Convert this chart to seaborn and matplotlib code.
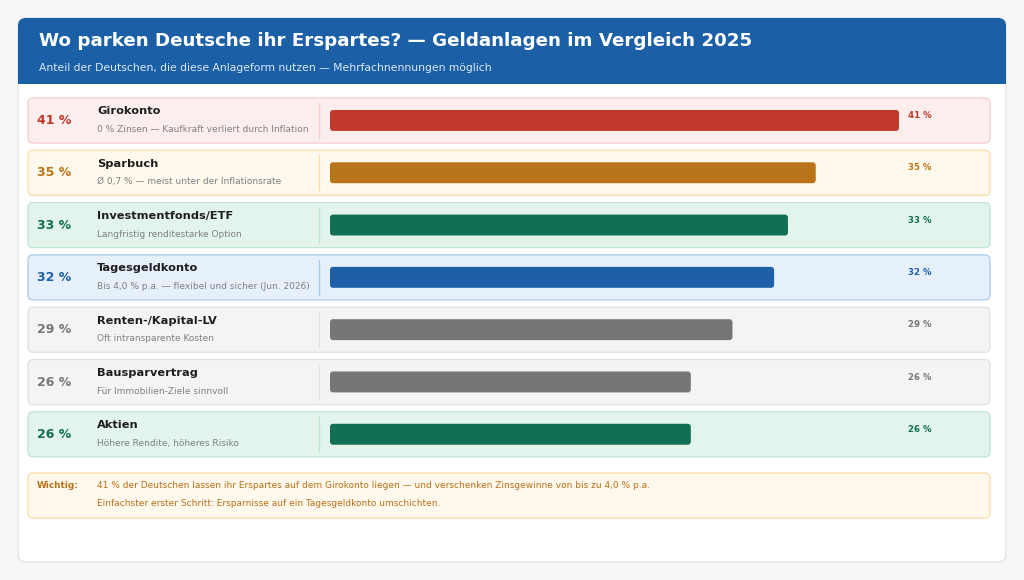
import matplotlib
matplotlib.use("Agg")
import matplotlib.pyplot as plt
from matplotlib.patches import FancyBboxPatch, Rectangle
import seaborn as sns
import pandas as pd

# ---- data ----
categories = ["Girokonto", "Sparbuch", "Investmentfonds/ETF", "Tagesgeldkonto",
              "Renten-/Kapital-LV", "Bausparvertrag", "Aktien"]
shares = [41, 35, 33, 32, 29, 26, 26]
descriptions = ["0 % Zinsen — Kaufkraft verliert durch Inflation",
                "Ø 0,7 % — meist unter der Inflationsrate",
                "Langfristig renditestarke Option",
                "Bis 4,0 % p.a. — flexibel und sicher (Jun. 2026)",
                "Oft intransparente Kosten",
                "Für Immobilien-Ziele sinnvoll",
                "Höhere Rendite, höheres Risiko"]
title = "Wo parken Deutsche ihr Erspartes? — Geldanlagen im Vergleich 2025"
subtitle = "Anteil der Deutschen, die diese Anlageform nutzen — Mehrfachnennungen möglich"
note_label = "Wichtig:"
note_lines = ["41 % der Deutschen lassen ihr Erspartes auf dem Girokonto liegen — und verschenken Zinsgewinne von bis zu 4,0 % p.a.",
              "Einfachster erster Schritt: Ersparnisse auf ein Tagesgeldkonto umschichten."]

# ---- styles ----
bar_colors = ["#c0392b", "#b87418", "#136f54", "#1f5fa8", "#767676", "#767676", "#136f54"]
row_bg = ["#fdeeee", "#fef9ec", "#e2f4ec", "#e6f0fb", "#f4f4f4", "#f4f4f4", "#e2f4ec"]
row_edge = ["#f7cdd0", "#f9dca8", "#bfe5d3", "#a9c9ee", "#e2e2e2", "#e2e2e2", "#bfe5d3"]
header_blue = "#1b5fa7"

W, H = 1024, 580
sns.set_theme(style="white")
plt.rcParams["font.family"] = ["DejaVu Sans"]

fig = plt.figure(figsize=(W / 100, H / 100), dpi=100)
fig.patch.set_facecolor("#f7f7f7")

bg = fig.add_axes([0, 0, 1, 1])
bg.set_xlim(0, W)
bg.set_ylim(H, 0)
bg.axis("off")

# card
bg.add_patch(FancyBboxPatch((18, 18), 988, 544, boxstyle="round,pad=0,rounding_size=8",
                            fc="white", ec="#dddddd", lw=0.8, zorder=1))
# header
bg.add_patch(FancyBboxPatch((18, 18), 988, 66, boxstyle="round,pad=0,rounding_size=8",
                            fc=header_blue, ec="none", zorder=2))
bg.add_patch(Rectangle((18, 60), 988, 24, fc=header_blue, ec="none", zorder=2))
bg.text(39, 41, title, color="white", fontsize=13.15, fontweight="bold", va="center", zorder=3)
bg.text(39, 68, subtitle, color="#dce8f5", fontsize=7.72, va="center", zorder=3)

row_top0 = 98
row_step = 52.3
row_h = 45
for i, (cat, val, desc) in enumerate(zip(categories, shares, descriptions)):
    top = row_top0 + i * row_step
    cy = top + row_h / 2
    bg.add_patch(FancyBboxPatch((28, top), 962, row_h, boxstyle="round,pad=0,rounding_size=5",
                                fc=row_bg[i], ec=row_edge[i], lw=0.9, zorder=2))
    bg.plot([319, 319], [top + 5, top + row_h - 5], color=row_edge[i], lw=1, zorder=3)
    bg.text(37, cy, f"{val} %", color=bar_colors[i], fontsize=9, fontweight="bold",
            va="center", zorder=3)
    bg.text(97, cy - 9, cat, color="#1e1e1e", fontsize=8.2, fontweight="bold",
            va="center", zorder=3)
    bg.text(97, cy + 9, desc, color="#808080", fontsize=6.5, va="center", zorder=3)
    bg.text(908, cy - 5, f"{val} %", color=bar_colors[i], fontsize=6.2, fontweight="bold",
            va="center", zorder=3)

# note box
bg.add_patch(FancyBboxPatch((28, 473), 962, 45, boxstyle="round,pad=0,rounding_size=5",
                            fc="#fef9ec", ec="#f9dca8", lw=0.9, zorder=2))
bg.text(37, 486, note_label, color="#b8701a", fontsize=6.4, fontweight="bold", va="center", zorder=3)
bg.text(97, 486, note_lines[0], color="#b8701a", fontsize=6.5, va="center", zorder=3)
bg.text(97, 504, note_lines[1], color="#b8701a", fontsize=6.5, va="center", zorder=3)

# ---- bars via seaborn ----
px_per_unit = (899 - 330) / 41
left_px, right_px = 330, 990
top_px, bot_px = 94.3, 94.3 + 7 * row_step
ax = fig.add_axes([left_px / W, 1 - bot_px / H, (right_px - left_px) / W, (bot_px - top_px) / H])
ax.patch.set_alpha(0)
df = pd.DataFrame({"cat": categories, "val": shares})
sns.barplot(data=df, y="cat", x="val", hue="cat", palette=bar_colors, orient="h",
            width=0.4, legend=False, saturation=1, ax=ax, zorder=4)
# round the bar corners (geometry taken from seaborn's bars)
aspect = px_per_unit / row_step
for p in list(ax.patches):
    x0, y0, w, h = p.get_x(), p.get_y(), p.get_width(), p.get_height()
    fc = p.get_facecolor()
    ax.add_patch(FancyBboxPatch((x0, y0), w, h,
                                boxstyle=f"round,pad=0,rounding_size={3 / px_per_unit}",
                                mutation_aspect=aspect, fc=fc, ec="none", zorder=4))
    p.set_visible(False)
ax.set_xlim(0, (right_px - left_px) / px_per_unit)
ax.set_ylim(6.5, -0.5)
ax.axis("off")

fig.savefig("out.png", dpi=100)
